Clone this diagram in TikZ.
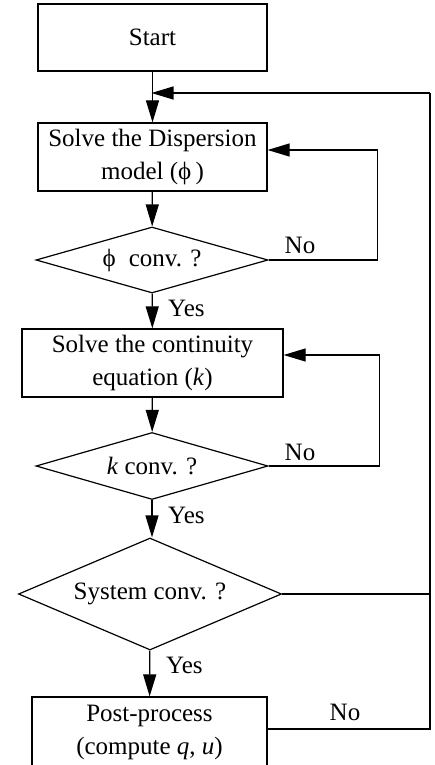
\documentclass[tikz,border=0pt]{standalone}
\usepackage{fontspec}
\setmainfont{Liberation Serif}
\usepackage{tikz}
\usetikzlibrary{shapes.geometric,arrows.meta}
\tikzset{
  box/.style={draw, line width=1.2pt, align=center, inner sep=0pt},
  dec/.style={draw, diamond, line width=1.2pt, inner sep=0pt, align=center},
  flow/.style={line width=1.2pt, -{Triangle[length=22pt,width=13pt]}},
  link/.style={line width=1.2pt},
  lab/.style={font=\fontsize{25}{30}\selectfont, inner sep=0pt},
}

\begin{document}
\begin{tikzpicture}[x=1pt, y=-1pt, font=\fontsize{25}{33}\selectfont]
\useasboundingbox (0,0) rectangle (434,765);
\node[box, minimum width=229pt, minimum height=67pt] (start) at (152.5,37.5) {Start};
\node[box, minimum width=229pt, minimum height=68pt] (disp) at (152.5,157) {Solve the Dispersion\\model (ϕ\,)};
\node[dec, aspect=3.5, minimum width=232pt, minimum height=66pt] (dphi) at (152,260) {ϕ\; conv. ?};
\node[box, minimum width=261pt, minimum height=68pt] (cont) at (152.5,363) {Solve the continuity\\equation (\textit{k})};
\node[dec, aspect=3.5, minimum width=232pt, minimum height=67pt] (dk) at (152,466) {\textit{k} conv. ?};
\node[dec, aspect=2.35, minimum width=263pt, minimum height=112pt] (dsys) at (150,594) {System conv. ?};
\node[box, minimum width=235pt, minimum height=70pt] (post) at (149.5,732) {Post-process\\(compute \textit{q}, \textit{u})};
\coordinate (j1) at (152.5,93);
\coordinate (rr) at (430,93);

% main line
\draw[flow] (start) -- (disp);
\draw[flow] (disp) -- (dphi);
\draw[flow] (dphi) -- (cont);
\draw[flow] (cont) -- (dk);
\draw[flow] (dk.south) -- (dk.south |- dsys.north);
\draw[flow] (dsys) -- (post);
\node[lab, anchor=west] (y1) at (168,308) {Yes};
\node[lab, anchor=west] (y2) at (168,515) {Yes};
\node[lab, anchor=west] (y3) at (166,665) {Yes};

% inner loops
\draw[flow] (dphi.east) -- ++(109,0) |- ([yshift=7pt]disp.east);
\draw[flow] (dk.east) -- ++(111,0) |- ([yshift=8pt]cont.east);
\node[lab] (n1) at (300,245) {No};
\node[lab] (n2) at (300,452) {No};

% outer loop
\draw[link] (post.east |- 0,729) -- (rr |- 0,729) -- (rr);
\draw[flow, shorten >=-1pt] (rr) -- (j1);
\draw[link] (dsys.east) -- (rr |- dsys.east);
\node[lab] (n3) at (345,712) {No};
\end{tikzpicture}
\end{document}
